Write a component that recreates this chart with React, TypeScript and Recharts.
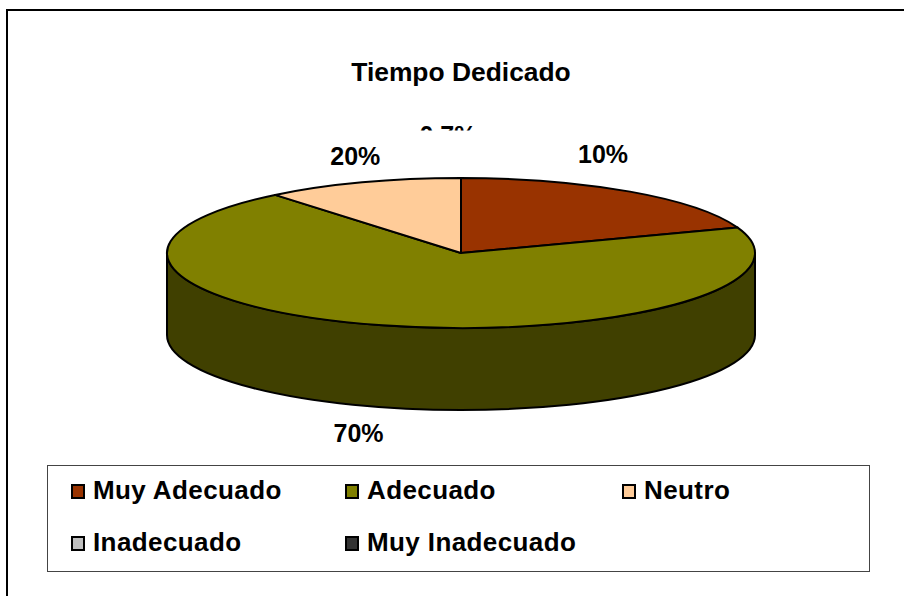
import { PieChart, Pie, Cell, Legend } from 'recharts'

const categories = ['Muy Adecuado', 'Adecuado', 'Neutro', 'Inadecuado', 'Muy Inadecuado']
const values = [19.5, 69.6, 10.9, 0, 0]
const valueLabels = ['10%', '70%', '20%', '0,7%', '']

const COLORS = ['#993300', '#808000', '#FFCC99', '#C0C0C0', '#333333']
const SIDE_COLORS = ['#4D1A00', '#404000', '#806633', '#606060', '#1A1A1A']

// label shift away from the slice's rim point, in px
const LABEL_NUDGE = [
  [-27, -38],
  [-24, 26],
  [-7, -26],
  [-13, -43],
  [0, 0],
]

const FONT = '"Liberation Sans", Arial, sans-serif'
const TILT = 75 / 294
const DEPTH = 82

const data = categories.map((name, i) => ({ name, value: values[i] }))

const rad = (deg: number) => (deg * Math.PI) / 180

// the pie is flattened into an ellipse, angles still come from the library
function rimPoint(cx: number, cy: number, r: number, deg: number) {
  return [cx + r * Math.cos(rad(deg)), cy - r * TILT * Math.sin(rad(deg))]
}

function Slice3D(props: any) {
  const { cx, cy, outerRadius: r, startAngle, endAngle, index } = props
  if (Math.abs(startAngle - endAngle) < 0.01) return null

  const [sx, sy] = rimPoint(cx, cy, r, startAngle)
  const [ex, ey] = rimPoint(cx, cy, r, endAngle)
  const large = Math.abs(startAngle - endAngle) > 180 ? 1 : 0
  const ry = r * TILT

  // side wall only shows on the front half
  const wallFrom = Math.min(startAngle, 0)
  const wallTo = Math.max(endAngle, -180)
  let wall = null
  if (wallFrom > wallTo) {
    const [ax, ay] = rimPoint(cx, cy, r, wallFrom)
    const [bx, by] = rimPoint(cx, cy, r, wallTo)
    wall = (
      <path
        d={`M${ax},${ay} A${r},${ry} 0 0 1 ${bx},${by} L${bx},${by + DEPTH} A${r},${ry} 0 0 0 ${ax},${ay + DEPTH} Z`}
        fill={SIDE_COLORS[index]}
        stroke="#000"
        strokeWidth={2}
        strokeLinejoin="round"
      />
    )
  }

  return (
    <g>
      {wall}
      <path
        d={`M${cx},${cy} L${sx},${sy} A${r},${ry} 0 ${large} 1 ${ex},${ey} Z`}
        fill={COLORS[index]}
        stroke="#000"
        strokeWidth={2}
        strokeLinejoin="round"
      />
    </g>
  )
}

function SliceLabel(props: any) {
  const { cx, cy, outerRadius: r, midAngle, index, value } = props
  const text = valueLabels[index]
  if (!text) return null
  const [px, py] = rimPoint(cx, cy, r, midAngle)
  // labels in the front sit under the side wall
  const wallShift = Math.sin(rad(midAngle)) < 0 ? DEPTH : 0
  const [dx, dy] = LABEL_NUDGE[index]
  return (
    <text
      x={px + dx}
      y={py + wallShift + dy}
      textAnchor="middle"
      dominantBaseline="central"
      // the label of the empty slices is cut off in the original
      clipPath={value === 0 ? 'url(#label-clip)' : undefined}
      fontFamily={FONT}
      fontWeight="bold"
      fontSize={25}
      fill="#000"
    >
      {text}
    </text>
  )
}

function LegendBox({ payload }: any) {
  return (
    <div
      style={{
        boxSizing: 'border-box',
        width: 823,
        height: 107,
        border: '1.5px solid #444',
        background: '#fff',
        display: 'grid',
        gridTemplateColumns: '274px 277px 1fr',
        gridAutoRows: '52px',
        padding: '0 0 4px 23px',
        alignContent: 'center',
        fontFamily: FONT,
        fontWeight: 'bold',
        fontSize: 26,
        letterSpacing: 0.4,
        color: '#000',
      }}
    >
      {(payload || []).map((item: any, i: number) => (
        <div key={item.value} style={{ display: 'flex', alignItems: 'center' }}>
          <span
            style={{
              boxSizing: 'border-box',
              width: 14,
              height: 15,
              marginRight: 8,
              marginTop: 2,
              border: '2px solid #000',
              background: COLORS[i],
            }}
          />
          <span>{item.value}</span>
        </div>
      ))}
    </div>
  )
}

export default function App() {
  return (
    <div style={{ position: 'fixed', left: 0, top: 0, width: 904, height: 596, overflow: 'hidden', background: '#fff' }}>
      <div style={{ position: 'absolute', left: 6, top: 9, width: 1000, height: 1000, borderTop: '2px solid #000', borderLeft: '2px solid #000' }} />
      <PieChart width={904} height={596} style={{ position: 'absolute', left: 0, top: 0 }} margin={{ top: 0, right: 0, bottom: 0, left: 0 }}>
        <defs>
          <clipPath id="label-clip" clipPathUnits="userSpaceOnUse">
            <rect x={0} y={100} width={904} height={30.5} />
          </clipPath>
        </defs>
        <text x={461} y={72} textAnchor="middle" dominantBaseline="central" fontFamily={FONT} fontWeight="bold" fontSize={26.4} fill="#000">
          Tiempo Dedicado
        </text>
        <Pie
          data={data}
          dataKey="value"
          nameKey="name"
          cx={461}
          cy={253}
          outerRadius={294}
          startAngle={90}
          endAngle={-270}
          stroke="none"
          shape={Slice3D}
          label={SliceLabel}
          labelLine={false}
          isAnimationActive={false}
        >
          {data.map((entry, index) => (
            <Cell key={`cell-${index}`} fill={COLORS[index]} />
          ))}
        </Pie>
        <Legend
          content={LegendBox}
          itemSorter={null}
          wrapperStyle={{ position: 'absolute', left: 47, top: 465, width: 823, height: 107 }}
        />
      </PieChart>
    </div>
  )
}
